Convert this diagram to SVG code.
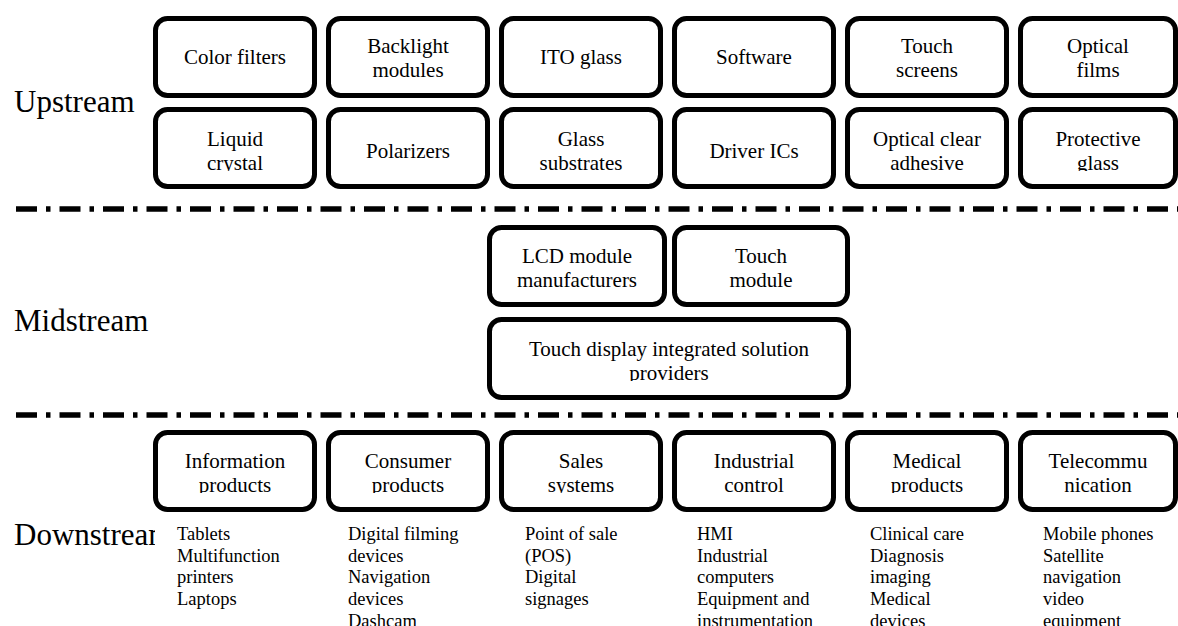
<svg xmlns="http://www.w3.org/2000/svg" width="1178" height="626" viewBox="0 0 1178 626">
<style>
text{font-family:"Liberation Serif","Times New Roman",serif;fill:#000}
.box{fill:#fff;stroke:#000;stroke-width:5}
.t{font-size:21px;text-anchor:middle}
.lab{font-size:31px}
.li{font-size:18.5px}
.sep{stroke:#000;stroke-width:5.5;stroke-dasharray:21 9 4.5 9;fill:none}
</style>
<defs>
<clipPath id="cRow2"><rect x="0" y="0" width="1178" height="171"/></clipPath>
<clipPath id="cInt"><rect x="0" y="0" width="1178" height="381"/></clipPath>
<clipPath id="cDown"><rect x="0" y="0" width="1178" height="493"/></clipPath>
<clipPath id="cLab"><rect x="0" y="0" width="155" height="626"/></clipPath>
</defs>
<rect width="1178" height="626" fill="#fff"/>

<g id="labels">
<text class="lab" x="14" y="112">Upstream</text>
<text class="lab" x="14" y="331">Midstream</text>
<text class="lab" x="14" y="545" clip-path="url(#cLab)">Downstream</text>
</g>

<g id="separators">
<line class="sep" x1="16" y1="209" x2="1178" y2="209"/>
<line class="sep" x1="16" y1="415" x2="1178" y2="415"/>
</g>

<g id="color-filters"><rect class="box" x="155.5" y="18.5" width="159" height="77" rx="12"/><text class="t" x="235" y="64">Color filters</text></g>
<g id="backlight-modules"><rect class="box" x="328.5" y="18.5" width="159" height="77" rx="12"/><text class="t" x="408" y="53">Backlight</text><text class="t" x="408" y="77">modules</text></g>
<g id="ito-glass"><rect class="box" x="501.5" y="18.5" width="159" height="77" rx="12"/><text class="t" x="581" y="64">ITO glass</text></g>
<g id="software"><rect class="box" x="674.5" y="18.5" width="159" height="77" rx="12"/><text class="t" x="754" y="64">Software</text></g>
<g id="touch-screens"><rect class="box" x="847.5" y="18.5" width="159" height="77" rx="12"/><text class="t" x="927" y="53">Touch</text><text class="t" x="927" y="77">screens</text></g>
<g id="optical-films"><rect class="box" x="1020.5" y="18.5" width="155" height="77" rx="12"/><text class="t" x="1098" y="53">Optical</text><text class="t" x="1098" y="77">films</text></g>

<g id="liquid-crystal"><rect class="box" x="155.5" y="109.5" width="159" height="77" rx="12"/><g clip-path="url(#cRow2)"><text class="t" x="235" y="146">Liquid</text><text class="t" x="235" y="170">crystal</text></g></g>
<g id="polarizers"><rect class="box" x="328.5" y="109.5" width="159" height="77" rx="12"/><text class="t" x="408" y="158">Polarizers</text></g>
<g id="glass-substrates"><rect class="box" x="501.5" y="109.5" width="159" height="77" rx="12"/><g clip-path="url(#cRow2)"><text class="t" x="581" y="146">Glass</text><text class="t" x="581" y="170">substrates</text></g></g>
<g id="driver-ics"><rect class="box" x="674.5" y="109.5" width="159" height="77" rx="12"/><text class="t" x="754" y="158">Driver ICs</text></g>
<g id="optical-clear-adhesive"><rect class="box" x="847.5" y="109.5" width="159" height="77" rx="12"/><g clip-path="url(#cRow2)"><text class="t" x="927" y="146">Optical clear</text><text class="t" x="927" y="170">adhesive</text></g></g>
<g id="protective-glass"><rect class="box" x="1020.5" y="109.5" width="155" height="77" rx="12"/><g clip-path="url(#cRow2)"><text class="t" x="1098" y="146">Protective</text><text class="t" x="1098" y="170">glass</text></g></g>

<g id="lcd-module"><rect class="box" x="489.5" y="227.5" width="175" height="77" rx="12"/><text class="t" x="577" y="263">LCD module</text><text class="t" x="577" y="287">manufacturers</text></g>
<g id="touch-module"><rect class="box" x="674.5" y="227.5" width="173" height="77" rx="12"/><text class="t" x="761" y="263">Touch</text><text class="t" x="761" y="287">module</text></g>
<g id="integrated-solution"><rect class="box" x="489.5" y="319.5" width="359" height="78" rx="12"/><g clip-path="url(#cInt)"><text class="t" x="669" y="356">Touch display integrated solution</text><text class="t" x="669" y="380">providers</text></g></g>

<g id="information-products"><rect class="box" x="155.5" y="432.5" width="159" height="77" rx="12"/><g clip-path="url(#cDown)"><text class="t" x="235" y="468">Information</text><text class="t" x="235" y="492">products</text></g>
<text class="li" x="177" y="540">Tablets</text><text class="li" x="177" y="561.7">Multifunction</text><text class="li" x="177" y="583.4">printers</text><text class="li" x="177" y="605.1">Laptops</text></g>
<g id="consumer-products"><rect class="box" x="328.5" y="432.5" width="159" height="77" rx="12"/><g clip-path="url(#cDown)"><text class="t" x="408" y="468">Consumer</text><text class="t" x="408" y="492">products</text></g>
<text class="li" x="348" y="540">Digital filming</text><text class="li" x="348" y="561.7">devices</text><text class="li" x="348" y="583.4">Navigation</text><text class="li" x="348" y="605.1">devices</text><text class="li" x="348" y="626.8">Dashcam</text></g>
<g id="sales-systems"><rect class="box" x="501.5" y="432.5" width="159" height="77" rx="12"/><g clip-path="url(#cDown)"><text class="t" x="581" y="468">Sales</text><text class="t" x="581" y="492">systems</text></g>
<text class="li" x="525" y="540">Point of sale</text><text class="li" x="525" y="561.7">(POS)</text><text class="li" x="525" y="583.4">Digital</text><text class="li" x="525" y="605.1">signages</text></g>
<g id="industrial-control"><rect class="box" x="674.5" y="432.5" width="159" height="77" rx="12"/><g clip-path="url(#cDown)"><text class="t" x="754" y="468">Industrial</text><text class="t" x="754" y="492">control</text></g>
<text class="li" x="697" y="540">HMI</text><text class="li" x="697" y="561.7">Industrial</text><text class="li" x="697" y="583.4">computers</text><text class="li" x="697" y="605.1">Equipment and</text><text class="li" x="697" y="626.8">instrumentation</text></g>
<g id="medical-products"><rect class="box" x="847.5" y="432.5" width="159" height="77" rx="12"/><g clip-path="url(#cDown)"><text class="t" x="927" y="468">Medical</text><text class="t" x="927" y="492">products</text></g>
<text class="li" x="870" y="540">Clinical care</text><text class="li" x="870" y="561.7">Diagnosis</text><text class="li" x="870" y="583.4">imaging</text><text class="li" x="870" y="605.1">Medical</text><text class="li" x="870" y="626.8">devices</text></g>
<g id="telecommunication"><rect class="box" x="1020.5" y="432.5" width="155" height="77" rx="12"/><g clip-path="url(#cDown)"><text class="t" x="1098" y="468">Telecommu</text><text class="t" x="1098" y="492">nication</text></g>
<text class="li" x="1043" y="540">Mobile phones</text><text class="li" x="1043" y="561.7">Satellite</text><text class="li" x="1043" y="583.4">navigation</text><text class="li" x="1043" y="605.1">video</text><text class="li" x="1043" y="626.8">equipment</text></g>
</svg>
